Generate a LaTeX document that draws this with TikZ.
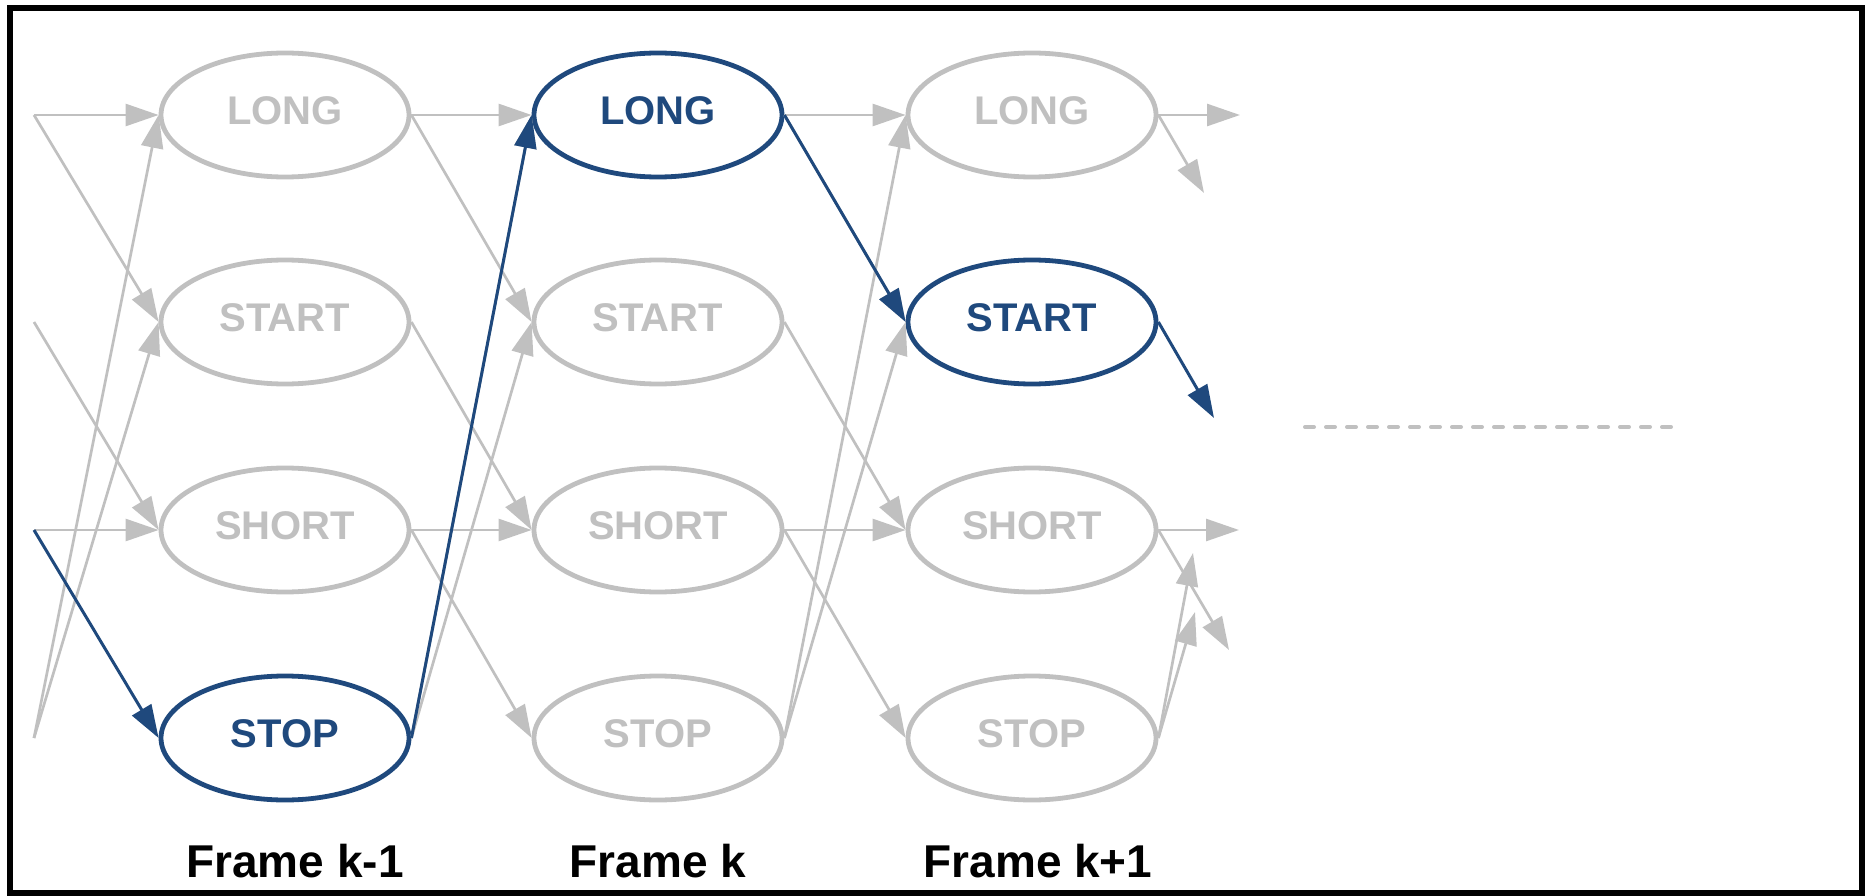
\documentclass[tikz,border=0pt]{standalone}
\usepackage{fontspec}
\setmainfont{Liberation Sans}
\usetikzlibrary{shapes.geometric,arrows.meta}
\definecolor{stategray}{HTML}{C0C0C0}
\definecolor{pathblue}{HTML}{1F497D}
\begin{document}
\begin{tikzpicture}[x=1pt,y=-1pt,
  state/.style={ellipse, draw=stategray, line width=4.8pt,
    minimum width=248pt, minimum height=124pt, inner sep=0pt,
    text=stategray, text depth=8pt,
    font=\fontsize{40}{40}\selectfont\bfseries},
  best/.style={state, draw=pathblue, text=pathblue},
  trans/.style={draw=stategray, line width=2.7pt,
    -{Triangle[length=33pt,width=22pt]}},
  besttrans/.style={trans, draw=pathblue, line width=3pt},
  framelabel/.style={anchor=base, text=black,
    font=\fontsize{46}{46}\selectfont\bfseries},
  border/.style={draw=black, line width=5.5pt},
  ellipsis/.style={draw=stategray, line width=4pt,
    dash pattern=on 9pt off 12pt, line cap=round}
]
\useasboundingbox (0,0) rectangle (1869,896);
\draw[border] (10,8) rectangle (1862,893);

% frame k-1
\node[state] (L1) at (285,115) {LONG};
\node[state] (A1) at (285,322) {START};
\node[state] (H1) at (285,530) {SHORT};
\node[best]  (P1) at (285,738) {STOP};
% frame k
\node[best]  (L2) at (658,115) {LONG};
\node[state] (A2) at (658,322) {START};
\node[state] (H2) at (658,530) {SHORT};
\node[state] (P2) at (658,738) {STOP};
% frame k+1
\node[state] (L3) at (1032,115) {LONG};
\node[best]  (A3) at (1032,322) {START};
\node[state] (H3) at (1032,530) {SHORT};
\node[state] (P3) at (1032,738) {STOP};

% incoming transitions from the previous frame
\coordinate (iL) at (34,115);
\coordinate (iA) at (34,322);
\coordinate (iH) at (34,530);
\coordinate (iP) at (34,738);

% outgoing transitions into the next frame
\coordinate (oLL) at (1240,115);
\coordinate (oLA) at (1204,193);
\coordinate (oAH) at (1214,418);
\coordinate (oHH) at (1239,530);
\coordinate (oHP) at (1229,650);
\coordinate (oPL) at (1193,553);
\coordinate (oPA) at (1195,612);

% transitions into frame k-1
\draw[trans] (iL) -- (L1.west);
\draw[trans] (iL) -- (A1.west);
\draw[trans] (iA) -- (H1.west);
\draw[trans] (iH) -- (H1.west);
\draw[trans] (iP) -- (L1.west);
\draw[trans] (iP) -- (A1.west);

% transitions between frames
\foreach \a/\b in {1/2, 2/3} {
  \draw[trans] (L\a.east) -- (L\b.west);
  \draw[trans] (L\a.east) -- (A\b.west);
  \draw[trans] (A\a.east) -- (H\b.west);
  \draw[trans] (H\a.east) -- (H\b.west);
  \draw[trans] (H\a.east) -- (P\b.west);
  \draw[trans] (P\a.east) -- (L\b.west);
  \draw[trans] (P\a.east) -- (A\b.west);
}

% transitions out of frame k+1
\draw[trans] (L3.east) -- (oLL);
\draw[trans] (L3.east) -- (oLA);
\draw[trans] (H3.east) -- (oHH);
\draw[trans] (H3.east) -- (oHP);
\draw[trans] (P3.east) -- (oPL);
\draw[trans] (P3.east) -- (oPA);

% best path
\draw[besttrans] (iH) -- (P1.west);
\draw[besttrans] (P1.east) -- (L2.west);
\draw[besttrans] (L2.east) -- (A3.west);
\draw[besttrans] (A3.east) -- (oAH);

% continuation
\coordinate (dotsA) at (1305,427);
\coordinate (dotsB) at (1678,427);
\draw[ellipsis] (dotsA) -- (dotsB);

% frame labels
\node[framelabel] (F1) at (295,877) {Frame k-1};
\node[framelabel] (F2) at (658,877) {Frame k};
\node[framelabel] (F3) at (1038,877) {Frame k+1};
\end{tikzpicture}
\end{document}
